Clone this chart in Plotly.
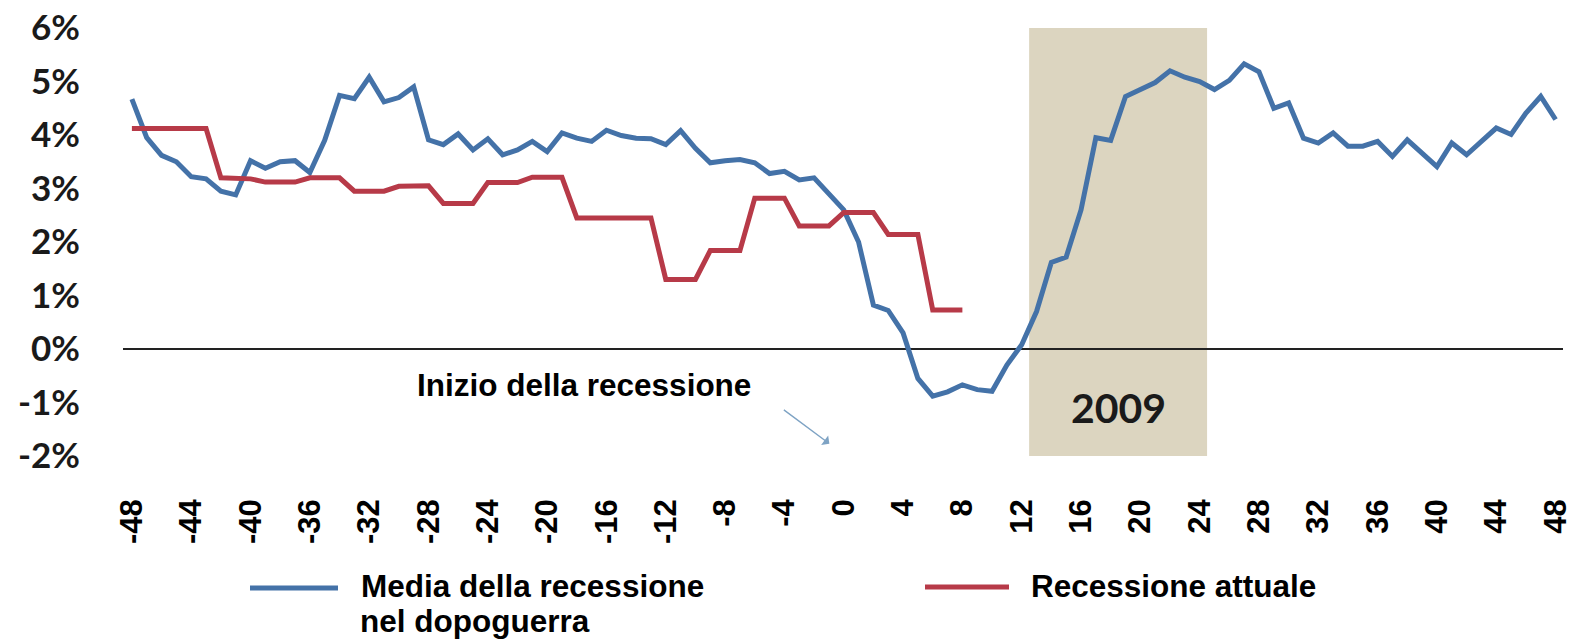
import plotly.graph_objects as go

# ---------------- data ----------------
months = list(range(-48, 49))

media_dopoguerra = [
    4.67, 3.95, 3.62, 3.50, 3.22, 3.18, 2.95, 2.88, 3.52, 3.38,   # -48..-39
    3.50, 3.52, 3.30, 3.90, 4.74, 4.68, 5.08, 4.62, 4.70, 4.90,   # -38..-29
    3.91, 3.82, 4.02, 3.72, 3.93, 3.63, 3.72, 3.88, 3.69, 4.04,   # -28..-19
    3.94, 3.88, 4.09, 3.99, 3.94, 3.93, 3.82, 4.08, 3.75, 3.48,   # -18..-9
    3.52, 3.54, 3.48, 3.28, 3.32, 3.16, 3.20, 2.90, 2.60, 2.00,   # -8..1
    0.82, 0.72, 0.30, -0.55, -0.88, -0.80, -0.67, -0.76, -0.79, -0.30,  # 2..11
    0.08, 0.70, 1.62, 1.72, 2.60, 3.95, 3.90, 4.72, 4.85, 4.98,   # 12..21
    5.20, 5.08, 5.00, 4.85, 5.02, 5.33, 5.18, 4.50, 4.60, 3.94,   # 22..31
    3.85, 4.04, 3.79, 3.79, 3.88, 3.60, 3.91, 3.66, 3.41, 3.85,   # 32..41
    3.63, 3.88, 4.13, 4.01, 4.41, 4.72, 4.29,                     # 42..48
]

months_attuale = list(range(-48, 9))
recessione_attuale = [
    4.12, 4.12, 4.12, 4.12, 4.12, 4.12,   # -48..-43
    3.20, 3.20, 3.18,                     # -42..-40
    3.12, 3.12, 3.12,                     # -39..-37
    3.20, 3.20, 3.20,                     # -36..-34
    2.95, 2.95, 2.95,                     # -33..-31
    3.04, 3.05, 3.05,                     # -30..-28
    2.72, 2.72, 2.72,                     # -27..-25
    3.11, 3.11, 3.11,                     # -24..-22
    3.21, 3.21, 3.21,                     # -21..-19
    2.45, 2.45, 2.45,                     # -18..-16
    2.45, 2.45, 2.45,                     # -15..-13
    1.30, 1.30, 1.30,                     # -12..-10
    1.84, 1.84, 1.84,                     # -9..-7
    2.82, 2.82, 2.82,                     # -6..-4
    2.30, 2.30, 2.30,                     # -3..-1
    2.55, 2.55, 2.55,                     # 0..2
    2.14, 2.14, 2.14,                     # 3..5
    0.73, 0.73, 0.73,                     # 6..8
]

x_ticks = list(range(-48, 49, 4))
y_ticks = [-2, -1, 0, 1, 2, 3, 4, 5, 6]
y_tick_text = [f"{v}%" for v in y_ticks]

series_names = ["Media della recessione", "nel dopoguerra", "Recessione attuale"]
band_2009 = (12.5, 24.5)
band_label = "2009"
start_label = "Inizio della recessione"

BLUE = "#4472a8"
RED = "#b73a48"

# ---------------- layout geometry ----------------
W, H = 1582, 641
ML, MR, MT, MB = 123, 19, 28, 185
PW = W - ML - MR
PH = H - MT - MB


def px_x(x):
    return (x - ML) / PW


def px_y(y):
    return (H - MB - y) / PH


fig = go.Figure()

fig.add_trace(go.Scatter(
    x=months, y=media_dopoguerra, mode="lines",
    line=dict(color=BLUE, width=5), name=" ".join(series_names[:2]), showlegend=False,
))
fig.add_trace(go.Scatter(
    x=months_attuale, y=recessione_attuale, mode="lines",
    line=dict(color=RED, width=5), name=series_names[2], showlegend=False,
))

# 2009 band
fig.add_shape(type="rect", xref="x", yref="y",
              x0=band_2009[0], x1=band_2009[1], y0=y_ticks[0], y1=y_ticks[-1],
              fillcolor="#dcd5c0", line=dict(width=0), layer="below")

fig.add_annotation(x=(band_2009[0] + band_2009[1]) / 2, y=-1.09, xref="x", yref="y",
                   text=band_label, showarrow=False,
                   font=dict(family="Lato", size=41, color="#1a1a1a", weight=700))

# "Inizio della recessione" label + arrow
fig.add_annotation(x=px_x(415), y=px_y(385), xref="paper", yref="paper",
                   xanchor="left", yanchor="middle", showarrow=False,
                   text=start_label,
                   font=dict(family="Liberation Sans", size=31.5, color="#000000", weight=700))
fig.add_annotation(x=-0.97, y=-1.77, xref="x", yref="y", ax=-47, ay=-35,
                   text="", showarrow=True, arrowhead=1, arrowsize=1.4,
                   arrowwidth=1.4, arrowcolor="#7ea3c4")

# custom legend
legend_font = dict(family="Liberation Sans", size=31.5, color="#000000", weight=700)
fig.add_shape(type="line", xref="paper", yref="paper",
              x0=px_x(250), x1=px_x(338), y0=px_y(588), y1=px_y(588),
              line=dict(color=BLUE, width=5))
fig.add_annotation(x=px_x(359), y=px_y(586), xref="paper", yref="paper",
                   xanchor="left", yanchor="middle", align="left", showarrow=False,
                   text=series_names[0], font=legend_font)
fig.add_annotation(x=px_x(359), y=px_y(640), xref="paper", yref="paper",
                   xanchor="left", yanchor="bottom", align="left", showarrow=False,
                   text=series_names[1], font=legend_font, borderpad=0)
fig.add_shape(type="line", xref="paper", yref="paper",
              x0=px_x(925), x1=px_x(1009), y0=px_y(587), y1=px_y(587),
              line=dict(color=RED, width=5))
fig.add_annotation(x=px_x(1029), y=px_y(586), xref="paper", yref="paper",
                   xanchor="left", yanchor="middle", showarrow=False,
                   text=series_names[2], font=legend_font)

fig.update_layout(
    width=W, height=H,
    margin=dict(l=ML, r=MR, t=MT, b=MB, autoexpand=False),
    paper_bgcolor="white", plot_bgcolor="white",
    showlegend=False,
)

fig.update_xaxes(
    range=[-48.6, 48.5], tickvals=x_ticks, ticktext=[str(v) for v in x_ticks],
    tickangle=-90, showgrid=False, zeroline=False, showline=False, ticks="",
    ticklabelstandoff=36, automargin=False,
    tickfont=dict(family="Liberation Sans", size=31, color="#000000", weight=700),
)
fig.update_yaxes(
    range=[-2, 6], tickvals=y_ticks, ticktext=y_tick_text,
    showgrid=False, zeroline=True, zerolinecolor="#222222", zerolinewidth=2,
    showline=False, ticks="", ticklabelstandoff=42, automargin=False,
    tickfont=dict(family="Lato", size=35, color="#1a1a1a", weight=700),
)

fig.write_html(
    "out.html",
    config={"displayModeBar": False},
    post_script="document.body.style.margin='0';document.body.style.overflow='hidden';",
)
